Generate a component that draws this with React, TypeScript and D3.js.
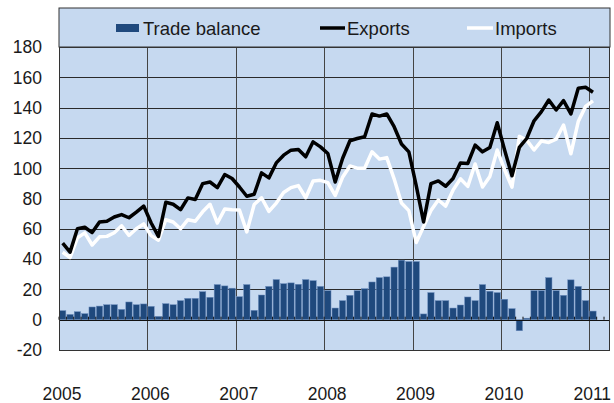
import React from "react";
import * as d3 from "d3";

const years = ["2005", "2006", "2007", "2008", "2009", "2010", "2011"];
const yTicks = [-20, 0, 20, 40, 60, 80, 100, 120, 140, 160, 180];

// Monthly, Jan 2005 .. Jan 2011
const exportsData = [
  50.5, 44.6, 60, 61, 57.5, 64.5, 65, 67.8, 69.4, 67.3, 71, 75,
  64, 55, 77.5, 76.2, 72.6, 80.4, 79.3, 89.8, 90.9, 87.2, 95.8, 93.2,
  87.6, 81.5, 82.8, 96.9, 93.6, 103.5, 108.6, 111.9, 112.4, 107.5, 117.4, 114.1,
  109.7, 90.9, 106.4, 118.1, 119.6, 120.8, 135.8, 134.4, 135.8, 127.4, 116, 110.8,
  88.5, 64.5, 89.8, 91.6, 88.1, 93.2, 103.5, 103.1, 115.2, 110.8, 113.7, 130,
  112, 95, 113.7, 119.6, 131.3, 137.3, 145, 138.4, 144.6, 135.8, 152.8, 153.4,
  150.1,
];
const importsData = [
  44.5, 41, 54, 57.3, 49.3, 54.7, 55, 57.4, 62, 55.6, 60, 63.2,
  55.5, 52.5, 66, 64.5, 60, 66, 65, 71.2, 76.2, 63.8, 73, 72.5,
  72.4, 58, 76, 80.5, 71.5, 77, 84, 87.2, 88.5, 80.5, 91.5, 92,
  90.5, 82, 94, 101.5, 100, 100, 110.8, 106, 107, 93, 77, 72,
  51, 61.5, 72, 79, 75, 85.5, 93, 88, 102.8, 87.6, 94.6, 112,
  99, 87.5, 121, 118.6, 112, 118, 117, 119.2, 128.5, 109.5, 130.8, 140.8,
  144.4,
];
const balanceData = [
  6, 3.5, 5.3, 4, 8.4, 9, 9.9, 9.9, 6.8, 11.7, 9.9, 10.4,
  8.8, 2.2, 10.6, 9.9, 12.6, 14.1, 14.1, 18.5, 14.8, 23.2, 22.3, 20.8,
  15.2, 23.2, 6.2, 16.3, 22, 26.5, 23.8, 24.3, 23.4, 26.5, 25.8, 22,
  19.2, 7.7, 12.6, 16.1, 19.2, 20.5, 24.9, 27.8, 28.3, 34.7, 39.3, 38.4,
  38.4, 3.8, 17.9, 12.6, 12.6, 7.7, 9.7, 15, 12.6, 23.2, 18.8, 17.9,
  13.5, 7.3, -7.3, 1, 19.2, 19.2, 27.8, 19.2, 16.1, 26.3, 22, 12.6,
  5.7,
];

const W = 614;
const H = 403;
const plotLeft = 59;
const plotRight = 610;
const plotTop = 47;
const plotBottom = 350;
const legendTop = 8;
const FONT = "'Liberation Sans', Arial, sans-serif";

export default function App() {
  const x = d3.scaleLinear().domain([0, 72]).range([plotLeft, 589.3]);
  const y = d3.scaleLinear().domain([-20, 180]).range([plotBottom, plotTop]);
  const mw = x(1) - x(0);
  const nTicks = Math.floor((plotRight - plotLeft) / mw);

  const line = d3
    .line<number>()
    .x((_, i) => x(i + 0.5))
    .y((v) => y(v));

  const bg = "#c6d9f0";
  const barColor = "#1f497d";
  const gridColor = "#2a2a2a";

  return (
    <svg
      width={W}
      height={H}
      style={{ position: "absolute", left: 0, top: 0 }}
      fontFamily={FONT}
    >
      <rect x={0} y={0} width={W} height={H} fill="#ffffff" />
      <rect
        x={plotLeft}
        y={legendTop}
        width={plotRight - plotLeft}
        height={plotTop - legendTop}
        fill={bg}
        stroke="#333"
        strokeWidth={1}
      />
      <rect
        x={plotLeft}
        y={plotTop}
        width={plotRight - plotLeft}
        height={plotBottom - plotTop}
        fill={bg}
      />
      {yTicks.map((t) => (
        <line
          key={"h" + t}
          x1={plotLeft}
          x2={plotRight}
          y1={Math.round(y(t)) + 0.5}
          y2={Math.round(y(t)) + 0.5}
          stroke={gridColor}
          strokeWidth={1}
        />
      ))}
      {years.slice(1).map((yr, k) => (
        <line
          key={"v" + yr}
          x1={Math.round(x((k + 1) * 12)) + 0.5}
          x2={Math.round(x((k + 1) * 12)) + 0.5}
          y1={plotTop}
          y2={plotBottom}
          stroke="#444"
          strokeWidth={1}
        />
      ))}
      {balanceData.map((v, i) => (
        <rect
          key={"b" + i}
          x={x(i) + 0.5}
          y={Math.min(y(v), y(0))}
          width={mw - 1}
          height={Math.abs(y(v) - y(0))}
          fill={barColor}
          stroke="#6f8fbf"
          strokeWidth={0.5}
        />
      ))}
      {d3.range(0, nTicks + 1).map((i) => (
        <line
          key={"t" + i}
          x1={x(i)}
          x2={x(i)}
          y1={y(0)}
          y2={y(0) - 3}
          stroke="#111"
          strokeWidth={1}
        />
      ))}
      <line
        x1={plotLeft}
        x2={plotRight}
        y1={Math.round(y(0)) + 0.5}
        y2={Math.round(y(0)) + 0.5}
        stroke="#111"
        strokeWidth={1}
      />
      <path
        d={line(importsData) || ""}
        fill="none"
        stroke="#ffffff"
        strokeWidth={3.5}
        strokeLinejoin="round"
      />
      <path
        d={line(exportsData) || ""}
        fill="none"
        stroke="#000000"
        strokeWidth={3.5}
        strokeLinejoin="round"
      />
      <rect
        x={plotLeft + 0.5}
        y={plotTop + 0.5}
        width={plotRight - plotLeft - 1}
        height={plotBottom - plotTop}
        fill="none"
        stroke="#333"
        strokeWidth={1}
      />
      {yTicks.map((t) => (
        <text
          key={"yl" + t}
          x={42}
          y={y(t)}
          dy="0.36em"
          textAnchor="end"
          fontSize={17.5}
          fill="#1a1a1a"
        >
          {t}
        </text>
      ))}
      {years.map((yr, k) => (
        <text
          key={"xl" + yr}
          x={x(k * 12) + 3}
          y={400}
          textAnchor="middle"
          fontSize={17.5}
          fill="#1a1a1a"
        >
          {yr}
        </text>
      ))}
      <rect x={116} y={24} width={23} height={8} fill={barColor} />
      <text x={143} y={35} fontSize={18.5} fill="#1a1a1a">
        Trade balance
      </text>
      <line x1={320} x2={345} y1={28} y2={28} stroke="#000" strokeWidth={3.5} />
      <text x={347} y={35} fontSize={18.5} fill="#1a1a1a">
        Exports
      </text>
      <line x1={467} x2={493} y1={28} y2={28} stroke="#fff" strokeWidth={3.5} />
      <text x={495} y={35} fontSize={18.5} fill="#1a1a1a">
        Imports
      </text>
    </svg>
  );
}
